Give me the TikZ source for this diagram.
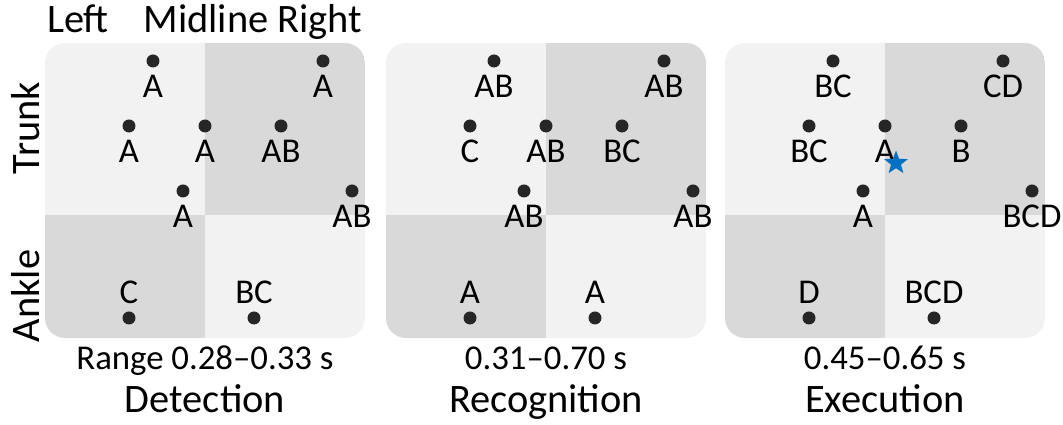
\documentclass[tikz,border=0pt]{standalone}
\usepackage{fontspec}
\setmainfont{Carlito}
\usetikzlibrary{shapes.geometric,positioning}
\definecolor{quadlight}{HTML}{F2F2F2}
\definecolor{quaddark}{HTML}{D9D9D9}
\definecolor{dotgray}{HTML}{262626}
\definecolor{starblue}{HTML}{0070C0}
\tikzset{
  dot/.style={circle,fill=dotgray,inner sep=0pt,minimum size=0.26cm},
  letter/.style={inner sep=0pt,font=\fontsize{19.8}{24}\selectfont},
  head/.style={inner sep=0pt,font=\fontsize{23}{28}\selectfont},
  node distance=0.14cm
}
% four shaded quadrants inside one rounded square
\newcommand{\quadrants}{%
  \begin{scope}
    \clip[rounded corners=0.4cm] (0,87) rectangle (320,382);
    \fill[quadlight] (0,210) rectangle (160,382);
    \fill[quaddark] (160,210) rectangle (320,382);
    \fill[quaddark] (0,87) rectangle (160,210);
    \fill[quadlight] (160,87) rectangle (320,210);
  \end{scope}}

\begin{document}
\begin{tikzpicture}[x=0.02cm,y=0.02cm]
    \useasboundingbox (0,0) rectangle (1063,425);

    % axis words
    \node[head,anchor=base] (left) at (78,392) {Left};
    \node[head,anchor=base] (midright) at (253,392) {Midline Right};
    \node[head,rotate=90] (trunk) at (26,297) {Trunk};
    \node[head,rotate=90] (ankle) at (26,129) {Ankle};

    % detection
    \begin{scope}[shift={(45,0)}]
    \quadrants
    \node[dot] (det1) at (108,364) {}; \node[letter,below=of det1] (det1t) {A};
    \node[dot] (det2) at (278,364) {}; \node[letter,below=of det2] (det2t) {A};
    \node[dot] (det3) at (84,299) {};  \node[letter,below=of det3] (det3t) {A};
    \node[dot] (det4) at (160,299) {}; \node[letter,below=of det4] (det4t) {A};
    \node[dot] (det5) at (236,299) {}; \node[letter,below=of det5] (det5t) {AB};
    \node[dot] (det6) at (138,234) {}; \node[letter,below=of det6] (det6t) {A};
    \node[dot] (det7) at (307,234) {}; \node[letter,below=of det7] (det7t) {AB};
    \node[dot] (det8) at (84,107) {};  \node[letter,above=of det8] (det8t) {C};
    \node[dot] (det9) at (209,107) {}; \node[letter,above=of det9] (det9t) {BC};
    \node[letter,anchor=base] (detrange) at (160,55) {Range 0.28\textendash0.33 s};
    \node[head,anchor=base] (dettitle) at (160,12) {Detection};
    \end{scope}

    % recognition
    \begin{scope}[shift={(386,0)}]
    \quadrants
    \node[dot] (rec1) at (108,364) {}; \node[letter,below=of rec1] (rec1t) {AB};
    \node[dot] (rec2) at (278,364) {}; \node[letter,below=of rec2] (rec2t) {AB};
    \node[dot] (rec3) at (84,299) {};  \node[letter,below=of rec3] (rec3t) {C};
    \node[dot] (rec4) at (160,299) {}; \node[letter,below=of rec4] (rec4t) {AB};
    \node[dot] (rec5) at (236,299) {}; \node[letter,below=of rec5] (rec5t) {BC};
    \node[dot] (rec6) at (138,234) {}; \node[letter,below=of rec6] (rec6t) {AB};
    \node[dot] (rec7) at (307,234) {}; \node[letter,below=of rec7] (rec7t) {AB};
    \node[dot] (rec8) at (84,107) {};  \node[letter,above=of rec8] (rec8t) {A};
    \node[dot] (rec9) at (209,107) {}; \node[letter,above=of rec9] (rec9t) {A};
    \node[letter,anchor=base] (recrange) at (160,55) {0.31\textendash0.70 s};
    \node[head,anchor=base] (rectitle) at (160,12) {Recognition};
    \end{scope}

    % execution
    \begin{scope}[shift={(725,0)}]
    \quadrants
    \node[dot] (exe1) at (108,364) {}; \node[letter,below=of exe1] (exe1t) {BC};
    \node[dot] (exe2) at (278,364) {}; \node[letter,below=of exe2] (exe2t) {CD};
    \node[dot] (exe3) at (84,299) {};  \node[letter,below=of exe3] (exe3t) {BC};
    \node[dot] (exe4) at (160,299) {}; \node[letter,below=of exe4] (exe4t) {A};
    \node[dot] (exe5) at (236,299) {}; \node[letter,below=of exe5] (exe5t) {B};
    \node[dot] (exe6) at (138,234) {}; \node[letter,below=of exe6] (exe6t) {A};
    \node[dot] (exe7) at (307,234) {}; \node[letter,below=of exe7] (exe7t) {BCD};
    \node[dot] (exe8) at (84,107) {};  \node[letter,above=of exe8] (exe8t) {D};
    \node[dot] (exe9) at (209,107) {}; \node[letter,above=of exe9] (exe9t) {BCD};
    \node[star,star points=5,star point ratio=2.4,fill=starblue,inner sep=0pt,minimum size=0.5cm] (goal) at (171,262) {};
    \node[letter,anchor=base] (exerange) at (160,55) {0.45\textendash0.65 s};
    \node[head,anchor=base] (exetitle) at (160,12) {Execution};
    \end{scope}
\end{tikzpicture}
\end{document}
